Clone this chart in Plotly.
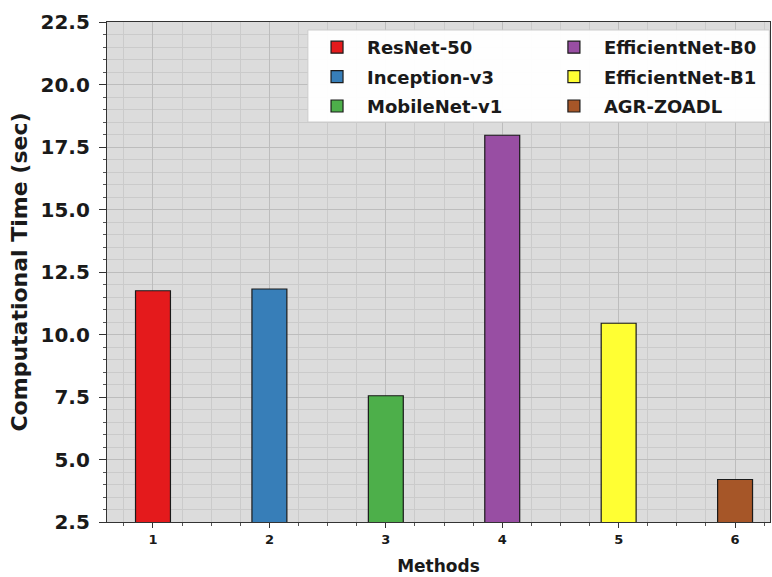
import plotly.graph_objects as go

methods = [1, 2, 3, 4, 5, 6]
names = ["ResNet-50", "Inception-v3", "MobileNet-v1", "EfficientNet-B0", "EfficientNet-B1", "AGR-ZOADL"]
times = [11.75, 11.82, 7.55, 17.97, 10.45, 4.2]
colors = ["#e41a1c", "#377eb8", "#4daf4a", "#984ea3", "#ffff33", "#a65628"]

y_ticks = [2.5, 5.0, 7.5, 10.0, 12.5, 15.0, 17.5, 20.0, 22.5]

fig = go.Figure()
for i in range(len(methods)):
    fig.add_trace(go.Bar(
        x=[methods[i]], y=[times[i]], name=names[i],
        width=0.3, base=0,
        legend="legend" if i < 3 else "legend2",
        legendgroup=f"g{i}",
        marker=dict(color=colors[i], line=dict(color="#1a1a1a", width=1.2)),
    ))

font_family = "DejaVu Sans"
legend_font = dict(family=font_family, size=18, color="#1a1a1a", weight="bold")
common_legend = dict(
    orientation="v", xanchor="left", yanchor="top", y=0.986,
    itemwidth=50, bgcolor="rgba(0,0,0,0)", borderwidth=0,
    font=legend_font, traceorder="grouped", tracegroupgap=3,
)

fig.update_layout(
    width=772, height=577,
    margin=dict(l=107, r=2, t=22, b=55),
    paper_bgcolor="white",
    plot_bgcolor="#dcdcdc",
    barmode="overlay",
    font=dict(family=font_family, color="#1a1a1a"),
    showlegend=True,
    legend=dict(x=0.3017, **common_legend),
    legend2=dict(x=0.659, **common_legend),
    shapes=[dict(
        type="rect", xref="paper", yref="paper",
        x0=0.303, x1=0.999, y0=0.8, y1=0.984,
        fillcolor="rgba(255,255,255,0.96)", line=dict(color="#cccccc", width=1),
        layer="above",
    )],
    xaxis=dict(
        range=[0.605, 6.3], automargin=False,
        tickmode="array", tickvals=methods, ticktext=[str(m) for m in methods],
        tickfont=dict(family=font_family, size=13, color="#1a1a1a", weight="bold"),
        ticks="outside", ticklen=5, tickcolor="#333333",
        minor=dict(dtick=0.25, ticks="outside", ticklen=3, tickcolor="#555555",
                   showgrid=True, gridcolor="#cbcbcb", gridwidth=0.6),
        showgrid=True, gridcolor="#bdbdbd", gridwidth=0.8,
        showline=True, linecolor="#333333", linewidth=1.2, mirror=True,
        title=dict(text="Methods", font=dict(family=font_family, size=17, color="#1a1a1a", weight="bold"), standoff=14),
        zeroline=False,
    ),
    yaxis=dict(
        range=[2.5, 22.5], automargin=False,
        tickmode="array", tickvals=y_ticks, ticktext=[f"{v:.1f}" for v in y_ticks],
        tickfont=dict(family=font_family, size=20, color="#1a1a1a", weight="bold"),
        ticks="outside", ticklen=7, ticklabelstandoff=5, tickcolor="#333333",
        minor=dict(dtick=0.5, tick0=2.5, ticks="outside", ticklen=3, tickcolor="#555555",
                   showgrid=True, gridcolor="#cbcbcb", gridwidth=0.6),
        showgrid=True, gridcolor="#bdbdbd", gridwidth=0.8,
        showline=True, linecolor="#333333", linewidth=1.2, mirror=True,
        title=dict(text="Computational Time (sec)", font=dict(family=font_family, size=22, color="#1a1a1a", weight="bold"), standoff=6),
        zeroline=False,
    ),
)

fig.write_html(
    "out.html",
    config={"displayModeBar": False},
    post_script="document.body.style.margin='0';document.body.style.overflow='hidden';",
)
